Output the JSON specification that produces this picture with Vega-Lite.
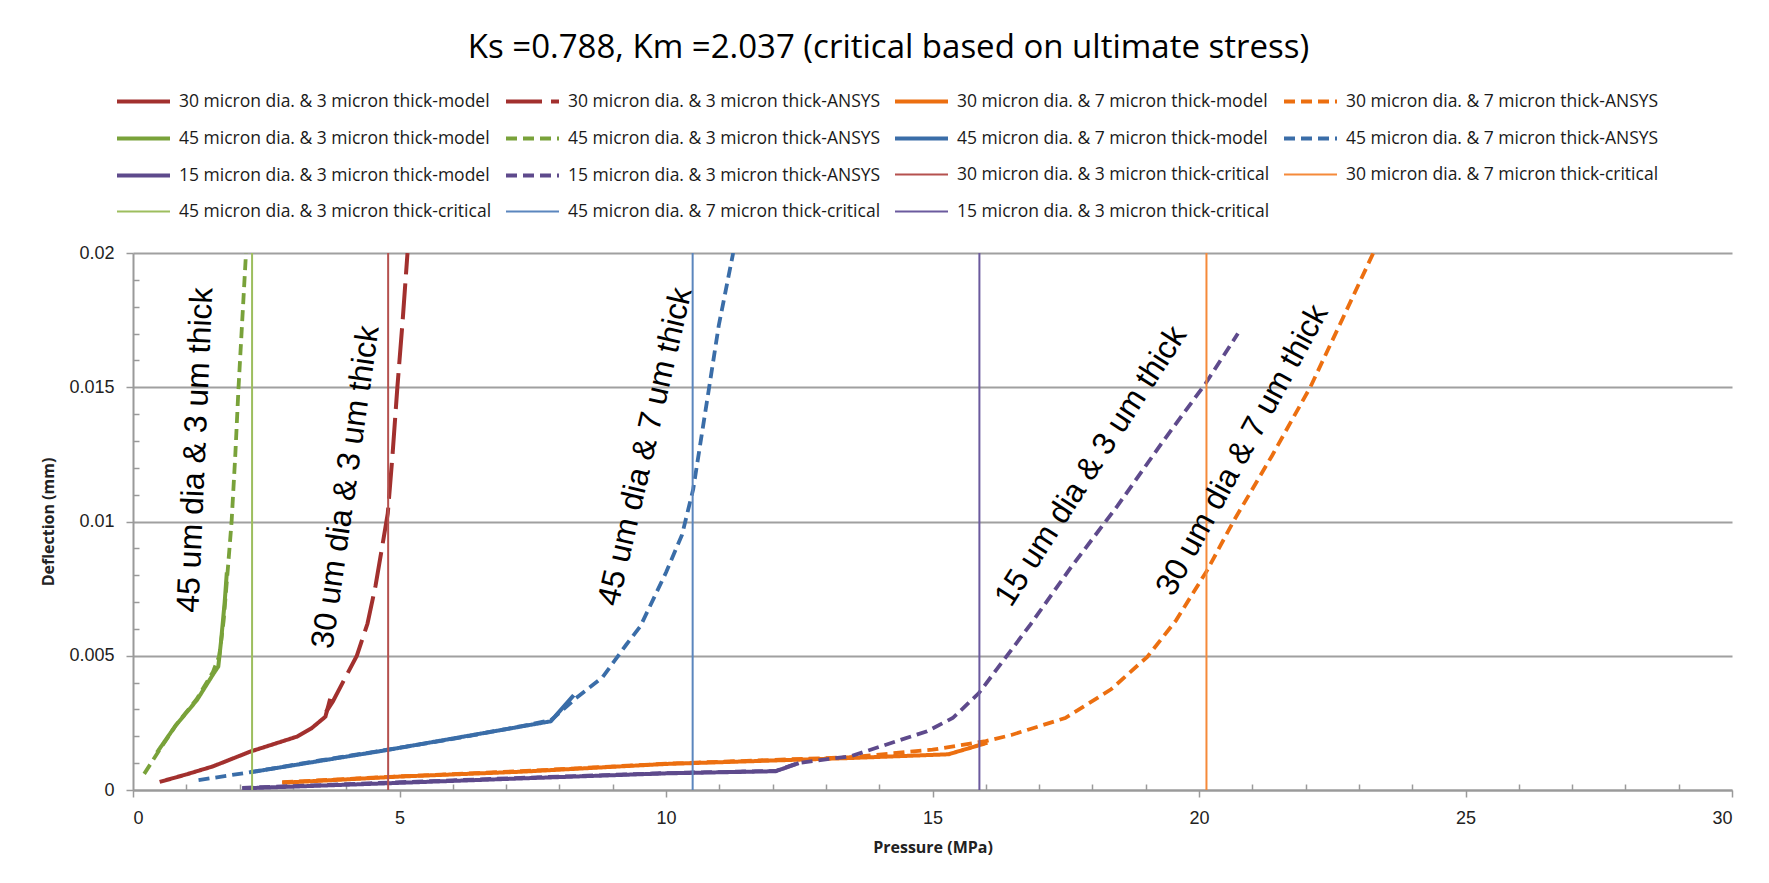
{
  "$schema": "https://vega.github.io/schema/vega-lite/v6.json",
  "width": 1599,
  "height": 537,
  "autosize": {"type": "none"},
  "padding": {"left": 133, "top": 253, "right": 37, "bottom": 93},
  "background": "white",
  "title": {
    "text": "Ks =0.788, Km =2.037 (critical based on ultimate stress)",
    "font": "Open Sans",
    "fontSize": 33,
    "fontWeight": "normal",
    "color": "#000000",
    "anchor": "middle",
    "offset": 8,
    "dx": -44
  },
  "config": {
    "view": {"stroke": null},
    "legend": {
      "orient": "none",
      "legendX": -18,
      "legendY": -180,
      "columns": 4,
      "direction": "horizontal",
      "symbolType": "stroke",
      "symbolSize": 2809,
      "labelFont": "Open Sans",
      "labelFontSize": 17.5,
      "labelColor": "#1a1a1a",
      "labelOffset": 7,
      "labelLimit": 0,
      "columnPadding": 6,
      "rowPadding": -1,
      "gridAlign": "all",
      "padding": 0
    }
  },
  "datasets": {
    "curves": [
      {"series": "30 micron dia. & 3 micron thick-model", "pressure": 0.5, "deflection": 0.0003},
      {"series": "30 micron dia. & 3 micron thick-model", "pressure": 1.0, "deflection": 0.00058},
      {"series": "30 micron dia. & 3 micron thick-model", "pressure": 1.5, "deflection": 0.00088},
      {"series": "30 micron dia. & 3 micron thick-model", "pressure": 2.2, "deflection": 0.00143},
      {"series": "30 micron dia. & 3 micron thick-model", "pressure": 3.08, "deflection": 0.00199},
      {"series": "30 micron dia. & 3 micron thick-model", "pressure": 3.35, "deflection": 0.0023},
      {"series": "30 micron dia. & 3 micron thick-model", "pressure": 3.61, "deflection": 0.00273},
      {"series": "30 micron dia. & 3 micron thick-model", "pressure": 3.7, "deflection": 0.0034},

      {"series": "30 micron dia. & 3 micron thick-ANSYS", "pressure": 3.62, "deflection": 0.0029},
      {"series": "30 micron dia. & 3 micron thick-ANSYS", "pressure": 3.75, "deflection": 0.0033},
      {"series": "30 micron dia. & 3 micron thick-ANSYS", "pressure": 3.96, "deflection": 0.0041},
      {"series": "30 micron dia. & 3 micron thick-ANSYS", "pressure": 4.2, "deflection": 0.005},
      {"series": "30 micron dia. & 3 micron thick-ANSYS", "pressure": 4.4, "deflection": 0.0062},
      {"series": "30 micron dia. & 3 micron thick-ANSYS", "pressure": 4.55, "deflection": 0.0076},
      {"series": "30 micron dia. & 3 micron thick-ANSYS", "pressure": 4.67, "deflection": 0.009},
      {"series": "30 micron dia. & 3 micron thick-ANSYS", "pressure": 4.78, "deflection": 0.0103},
      {"series": "30 micron dia. & 3 micron thick-ANSYS", "pressure": 4.87, "deflection": 0.0125},
      {"series": "30 micron dia. & 3 micron thick-ANSYS", "pressure": 4.96, "deflection": 0.015},
      {"series": "30 micron dia. & 3 micron thick-ANSYS", "pressure": 5.06, "deflection": 0.0175},
      {"series": "30 micron dia. & 3 micron thick-ANSYS", "pressure": 5.15, "deflection": 0.02},

      {"series": "30 micron dia. & 7 micron thick-model", "pressure": 2.8, "deflection": 0.00027},
      {"series": "30 micron dia. & 7 micron thick-model", "pressure": 5.0, "deflection": 0.0005},
      {"series": "30 micron dia. & 7 micron thick-model", "pressure": 7.27, "deflection": 0.00068},
      {"series": "30 micron dia. & 7 micron thick-model", "pressure": 10.0, "deflection": 0.00097},
      {"series": "30 micron dia. & 7 micron thick-model", "pressure": 13.44, "deflection": 0.00119},
      {"series": "30 micron dia. & 7 micron thick-model", "pressure": 15.3, "deflection": 0.00133},
      {"series": "30 micron dia. & 7 micron thick-model", "pressure": 16.03, "deflection": 0.00176},

      {"series": "30 micron dia. & 7 micron thick-ANSYS", "pressure": 2.8, "deflection": 0.00029},
      {"series": "30 micron dia. & 7 micron thick-ANSYS", "pressure": 5.0, "deflection": 0.00051},
      {"series": "30 micron dia. & 7 micron thick-ANSYS", "pressure": 7.27, "deflection": 0.0007},
      {"series": "30 micron dia. & 7 micron thick-ANSYS", "pressure": 10.0, "deflection": 0.00098},
      {"series": "30 micron dia. & 7 micron thick-ANSYS", "pressure": 13.44, "deflection": 0.00122},
      {"series": "30 micron dia. & 7 micron thick-ANSYS", "pressure": 15.0, "deflection": 0.0015},
      {"series": "30 micron dia. & 7 micron thick-ANSYS", "pressure": 16.0, "deflection": 0.00182},
      {"series": "30 micron dia. & 7 micron thick-ANSYS", "pressure": 16.48, "deflection": 0.00205},
      {"series": "30 micron dia. & 7 micron thick-ANSYS", "pressure": 17.49, "deflection": 0.00268},
      {"series": "30 micron dia. & 7 micron thick-ANSYS", "pressure": 18.35, "deflection": 0.00375},
      {"series": "30 micron dia. & 7 micron thick-ANSYS", "pressure": 19.03, "deflection": 0.00496},
      {"series": "30 micron dia. & 7 micron thick-ANSYS", "pressure": 19.57, "deflection": 0.00632},
      {"series": "30 micron dia. & 7 micron thick-ANSYS", "pressure": 20.15, "deflection": 0.00817},
      {"series": "30 micron dia. & 7 micron thick-ANSYS", "pressure": 20.65, "deflection": 0.01002},
      {"series": "30 micron dia. & 7 micron thick-ANSYS", "pressure": 21.37, "deflection": 0.01245},
      {"series": "30 micron dia. & 7 micron thick-ANSYS", "pressure": 22.09, "deflection": 0.01501},
      {"series": "30 micron dia. & 7 micron thick-ANSYS", "pressure": 22.7, "deflection": 0.01758},
      {"series": "30 micron dia. & 7 micron thick-ANSYS", "pressure": 23.27, "deflection": 0.02},

      {"series": "45 micron dia. & 3 micron thick-model", "pressure": 0.45, "deflection": 0.0014},
      {"series": "45 micron dia. & 3 micron thick-model", "pressure": 0.8, "deflection": 0.0024},
      {"series": "45 micron dia. & 3 micron thick-model", "pressure": 1.2, "deflection": 0.00335},
      {"series": "45 micron dia. & 3 micron thick-model", "pressure": 1.5, "deflection": 0.0043},
      {"series": "45 micron dia. & 3 micron thick-model", "pressure": 1.6, "deflection": 0.0046},
      {"series": "45 micron dia. & 3 micron thick-model", "pressure": 1.65, "deflection": 0.0055},
      {"series": "45 micron dia. & 3 micron thick-model", "pressure": 1.72, "deflection": 0.007},
      {"series": "45 micron dia. & 3 micron thick-model", "pressure": 1.76, "deflection": 0.0081},

      {"series": "45 micron dia. & 3 micron thick-ANSYS", "pressure": 0.21, "deflection": 0.0006},
      {"series": "45 micron dia. & 3 micron thick-ANSYS", "pressure": 0.5, "deflection": 0.0015},
      {"series": "45 micron dia. & 3 micron thick-ANSYS", "pressure": 0.8, "deflection": 0.0024},
      {"series": "45 micron dia. & 3 micron thick-ANSYS", "pressure": 1.2, "deflection": 0.0034},
      {"series": "45 micron dia. & 3 micron thick-ANSYS", "pressure": 1.5, "deflection": 0.0044},
      {"series": "45 micron dia. & 3 micron thick-ANSYS", "pressure": 1.62, "deflection": 0.005},
      {"series": "45 micron dia. & 3 micron thick-ANSYS", "pressure": 1.7, "deflection": 0.0063},
      {"series": "45 micron dia. & 3 micron thick-ANSYS", "pressure": 1.77, "deflection": 0.008},
      {"series": "45 micron dia. & 3 micron thick-ANSYS", "pressure": 1.85, "deflection": 0.01},
      {"series": "45 micron dia. & 3 micron thick-ANSYS", "pressure": 1.92, "deflection": 0.0125},
      {"series": "45 micron dia. & 3 micron thick-ANSYS", "pressure": 1.98, "deflection": 0.015},
      {"series": "45 micron dia. & 3 micron thick-ANSYS", "pressure": 2.05, "deflection": 0.0175},
      {"series": "45 micron dia. & 3 micron thick-ANSYS", "pressure": 2.12, "deflection": 0.02},

      {"series": "45 micron dia. & 7 micron thick-model", "pressure": 2.2, "deflection": 0.00066},
      {"series": "45 micron dia. & 7 micron thick-model", "pressure": 4.77, "deflection": 0.00149},
      {"series": "45 micron dia. & 7 micron thick-model", "pressure": 7.27, "deflection": 0.00236},
      {"series": "45 micron dia. & 7 micron thick-model", "pressure": 7.84, "deflection": 0.00256},
      {"series": "45 micron dia. & 7 micron thick-model", "pressure": 8.27, "deflection": 0.00353},

      {"series": "45 micron dia. & 7 micron thick-ANSYS", "pressure": 1.23, "deflection": 0.00037},
      {"series": "45 micron dia. & 7 micron thick-ANSYS", "pressure": 2.26, "deflection": 0.00068},
      {"series": "45 micron dia. & 7 micron thick-ANSYS", "pressure": 3.5, "deflection": 0.0011},
      {"series": "45 micron dia. & 7 micron thick-ANSYS", "pressure": 4.77, "deflection": 0.0015},
      {"series": "45 micron dia. & 7 micron thick-ANSYS", "pressure": 6.0, "deflection": 0.0019},
      {"series": "45 micron dia. & 7 micron thick-ANSYS", "pressure": 7.27, "deflection": 0.00237},
      {"series": "45 micron dia. & 7 micron thick-ANSYS", "pressure": 7.84, "deflection": 0.0026},
      {"series": "45 micron dia. & 7 micron thick-ANSYS", "pressure": 8.3, "deflection": 0.0034},
      {"series": "45 micron dia. & 7 micron thick-ANSYS", "pressure": 8.81, "deflection": 0.0042},
      {"series": "45 micron dia. & 7 micron thick-ANSYS", "pressure": 9.25, "deflection": 0.0054},
      {"series": "45 micron dia. & 7 micron thick-ANSYS", "pressure": 9.52, "deflection": 0.0061},
      {"series": "45 micron dia. & 7 micron thick-ANSYS", "pressure": 10.0, "deflection": 0.0081},
      {"series": "45 micron dia. & 7 micron thick-ANSYS", "pressure": 10.3, "deflection": 0.0095},
      {"series": "45 micron dia. & 7 micron thick-ANSYS", "pressure": 10.51, "deflection": 0.0112},
      {"series": "45 micron dia. & 7 micron thick-ANSYS", "pressure": 10.66, "deflection": 0.0131},
      {"series": "45 micron dia. & 7 micron thick-ANSYS", "pressure": 10.81, "deflection": 0.015},
      {"series": "45 micron dia. & 7 micron thick-ANSYS", "pressure": 10.99, "deflection": 0.0173},
      {"series": "45 micron dia. & 7 micron thick-ANSYS", "pressure": 11.26, "deflection": 0.02},

      {"series": "15 micron dia. & 3 micron thick-model", "pressure": 2.05, "deflection": 0.00006},
      {"series": "15 micron dia. & 3 micron thick-model", "pressure": 4.77, "deflection": 0.00025},
      {"series": "15 micron dia. & 3 micron thick-model", "pressure": 7.27, "deflection": 0.00043},
      {"series": "15 micron dia. & 3 micron thick-model", "pressure": 10.0, "deflection": 0.00062},
      {"series": "15 micron dia. & 3 micron thick-model", "pressure": 12.06, "deflection": 0.0007},
      {"series": "15 micron dia. & 3 micron thick-model", "pressure": 12.49, "deflection": 0.001},

      {"series": "15 micron dia. & 3 micron thick-ANSYS", "pressure": 2.05, "deflection": 0.00008},
      {"series": "15 micron dia. & 3 micron thick-ANSYS", "pressure": 7.27, "deflection": 0.00045},
      {"series": "15 micron dia. & 3 micron thick-ANSYS", "pressure": 10.0, "deflection": 0.00063},
      {"series": "15 micron dia. & 3 micron thick-ANSYS", "pressure": 12.06, "deflection": 0.00071},
      {"series": "15 micron dia. & 3 micron thick-ANSYS", "pressure": 12.49, "deflection": 0.00101},
      {"series": "15 micron dia. & 3 micron thick-ANSYS", "pressure": 13.47, "deflection": 0.00126},
      {"series": "15 micron dia. & 3 micron thick-ANSYS", "pressure": 14.9, "deflection": 0.00219},
      {"series": "15 micron dia. & 3 micron thick-ANSYS", "pressure": 15.38, "deflection": 0.00268},
      {"series": "15 micron dia. & 3 micron thick-ANSYS", "pressure": 15.87, "deflection": 0.00361},
      {"series": "15 micron dia. & 3 micron thick-ANSYS", "pressure": 16.84, "deflection": 0.00617},
      {"series": "15 micron dia. & 3 micron thick-ANSYS", "pressure": 17.6, "deflection": 0.0083},
      {"series": "15 micron dia. & 3 micron thick-ANSYS", "pressure": 18.47, "deflection": 0.01058},
      {"series": "15 micron dia. & 3 micron thick-ANSYS", "pressure": 19.33, "deflection": 0.013},
      {"series": "15 micron dia. & 3 micron thick-ANSYS", "pressure": 20.12, "deflection": 0.01513},
      {"series": "15 micron dia. & 3 micron thick-ANSYS", "pressure": 20.73, "deflection": 0.017},

      {"series": "30 micron dia. & 3 micron thick-critical", "pressure": 4.787, "deflection": 0},
      {"series": "30 micron dia. & 3 micron thick-critical", "pressure": 4.787, "deflection": 0.02},
      {"series": "30 micron dia. & 7 micron thick-critical", "pressure": 20.14, "deflection": 0},
      {"series": "30 micron dia. & 7 micron thick-critical", "pressure": 20.14, "deflection": 0.02},
      {"series": "45 micron dia. & 3 micron thick-critical", "pressure": 2.234, "deflection": 0},
      {"series": "45 micron dia. & 3 micron thick-critical", "pressure": 2.234, "deflection": 0.02},
      {"series": "45 micron dia. & 7 micron thick-critical", "pressure": 10.5, "deflection": 0},
      {"series": "45 micron dia. & 7 micron thick-critical", "pressure": 10.5, "deflection": 0.02},
      {"series": "15 micron dia. & 3 micron thick-critical", "pressure": 15.88, "deflection": 0},
      {"series": "15 micron dia. & 3 micron thick-critical", "pressure": 15.88, "deflection": 0.02}
    ]
  },
  "layer": [
    {
      "data": {"name": "curves"},
      "mark": {"type": "line", "clip": true},
      "encoding": {
        "x": {
          "field": "pressure",
          "type": "quantitative",
          "scale": {"domain": [0, 30], "nice": false, "zero": false},
          "axis": {
            "title": "Pressure (MPa)",
            "values": [0,1,2,3,4,5,6,7,8,9,10,11,12,13,14,15,16,17,18,19,20,21,22,23,24,25,26,27,28,29,30],
            "tickCount": 200,
            "labelOverlap": false,
            "labelExpr": "datum.value % 5 == 0 ? format(datum.value, 'd') : ''",
            "grid": false,
            "domainColor": "#9a9a9a",
            "domainWidth": 2,
            "tickColor": "#9a9a9a",
            "tickWidth": 1.5,
            "tickSize": {"condition": {"test": "datum.value % 5 == 0", "value": 7}, "value": -6},
            "labelFont": "Liberation Sans",
            "labelFontSize": 18,
            "labelColor": "#222222",
            "labelPadding": 12,
            "titleFont": "Open Sans",
            "titleFontSize": 16,
            "titleFontWeight": "bold",
            "titleColor": "#222222",
            "titlePadding": 12
          }
        },
        "y": {
          "field": "deflection",
          "type": "quantitative",
          "scale": {"domain": [0, 0.02], "nice": false},
          "axis": {
            "title": "Deflection (mm)",
            "values": [0,0.001,0.002,0.003,0.004,0.005,0.006,0.007,0.008,0.009,0.01,0.011,0.012,0.013,0.014,0.015,0.016,0.017,0.018,0.019,0.02],
            "tickCount": 200,
            "labelOverlap": false,
            "labelExpr": "round(datum.value*1000) % 5 == 0 ? format(datum.value, '~g') : ''",
            "grid": true,
            "gridColor": "#a0a0a0",
            "gridWidth": 2,
            "gridOpacity": {"condition": {"test": "round(datum.value*1000) % 5 == 0", "value": 1}, "value": 0},
            "domainColor": "#9a9a9a",
            "domainWidth": 2,
            "tickColor": "#9a9a9a",
            "tickWidth": 1.5,
            "tickSize": {"condition": {"test": "round(datum.value*1000) % 5 == 0", "value": 7}, "value": -6},
            "labelFont": "Liberation Sans",
            "labelFontSize": 18,
            "labelColor": "#222222",
            "labelPadding": 12,
            "titleFont": "Open Sans",
            "titleFontSize": 16,
            "titleFontWeight": "bold",
            "titleColor": "#222222",
            "titlePadding": 12
          }
        },
        "order": {"field": "deflection", "type": "quantitative"},
        "color": {
          "field": "series",
          "type": "nominal",
          "title": null,
          "scale": {
            "domain": [
              "30 micron dia. & 3 micron thick-model", "30 micron dia. & 3 micron thick-ANSYS", "30 micron dia. & 7 micron thick-model", "30 micron dia. & 7 micron thick-ANSYS",
              "45 micron dia. & 3 micron thick-model", "45 micron dia. & 3 micron thick-ANSYS", "45 micron dia. & 7 micron thick-model", "45 micron dia. & 7 micron thick-ANSYS",
              "15 micron dia. & 3 micron thick-model", "15 micron dia. & 3 micron thick-ANSYS", "30 micron dia. & 3 micron thick-critical", "30 micron dia. & 7 micron thick-critical",
              "45 micron dia. & 3 micron thick-critical", "45 micron dia. & 7 micron thick-critical", "15 micron dia. & 3 micron thick-critical"
            ],
            "range": ["#a2302e", "#a2302e", "#ec6f10", "#ec6f10", "#79a23a", "#79a23a", "#3a6da8", "#3a6da8", "#5e4a8c", "#5e4a8c", "#b5514e", "#f58a3a", "#9dbe5e", "#5b86be", "#6b5a9e"]
          }
        },
        "strokeDash": {
          "field": "series",
          "type": "nominal",
          "title": null,
          "scale": {
            "domain": [
              "30 micron dia. & 3 micron thick-model", "30 micron dia. & 3 micron thick-ANSYS", "30 micron dia. & 7 micron thick-model", "30 micron dia. & 7 micron thick-ANSYS",
              "45 micron dia. & 3 micron thick-model", "45 micron dia. & 3 micron thick-ANSYS", "45 micron dia. & 7 micron thick-model", "45 micron dia. & 7 micron thick-ANSYS",
              "15 micron dia. & 3 micron thick-model", "15 micron dia. & 3 micron thick-ANSYS", "30 micron dia. & 3 micron thick-critical", "30 micron dia. & 7 micron thick-critical",
              "45 micron dia. & 3 micron thick-critical", "45 micron dia. & 7 micron thick-critical", "15 micron dia. & 3 micron thick-critical"
            ],
            "range": [[1, 0], [36, 9], [1, 0], [11, 6], [1, 0], [11, 6], [1, 0], [11, 6], [1, 0], [11, 6], [1, 0], [1, 0], [1, 0], [1, 0], [1, 0]]
          }
        },
        "strokeWidth": {
          "field": "series",
          "type": "nominal",
          "title": null,
          "scale": {
            "type": "ordinal",
            "domain": [
              "30 micron dia. & 3 micron thick-model", "30 micron dia. & 3 micron thick-ANSYS", "30 micron dia. & 7 micron thick-model", "30 micron dia. & 7 micron thick-ANSYS",
              "45 micron dia. & 3 micron thick-model", "45 micron dia. & 3 micron thick-ANSYS", "45 micron dia. & 7 micron thick-model", "45 micron dia. & 7 micron thick-ANSYS",
              "15 micron dia. & 3 micron thick-model", "15 micron dia. & 3 micron thick-ANSYS", "30 micron dia. & 3 micron thick-critical", "30 micron dia. & 7 micron thick-critical",
              "45 micron dia. & 3 micron thick-critical", "45 micron dia. & 7 micron thick-critical", "15 micron dia. & 3 micron thick-critical"
            ],
            "range": [4, 4, 4, 3.8, 4, 3.8, 4, 3.8, 4, 3.8, 2, 2, 2, 2, 2]
          }
        }
      }
    },
    {
      "data": {"values": [{"label": "45 um dia & 3 um thick", "pressure": 1.17, "deflection": 0.01266}]},
      "mark": {"type": "text", "angle": 272.5, "font": "Liberation Sans", "fontSize": 32, "color": "#000000", "align": "center", "baseline": "middle"},
      "encoding": {
        "x": {"field": "pressure", "type": "quantitative"},
        "y": {"field": "deflection", "type": "quantitative"},
        "text": {"field": "label"}
      }
    },
    {
      "data": {"values": [{"label": "30 um dia & 3 um thick", "pressure": 3.99, "deflection": 0.01128}]},
      "mark": {"type": "text", "angle": 278.2, "font": "Liberation Sans", "fontSize": 32, "color": "#000000", "align": "center", "baseline": "middle"},
      "encoding": {
        "x": {"field": "pressure", "type": "quantitative"},
        "y": {"field": "deflection", "type": "quantitative"},
        "text": {"field": "label"}
      }
    },
    {
      "data": {"values": [{"label": "45 um dia & 7 um thick", "pressure": 9.61, "deflection": 0.01279}]},
      "mark": {"type": "text", "angle": 283.1, "font": "Liberation Sans", "fontSize": 32, "color": "#000000", "align": "center", "baseline": "middle"},
      "encoding": {
        "x": {"field": "pressure", "type": "quantitative"},
        "y": {"field": "deflection", "type": "quantitative"},
        "text": {"field": "label"}
      }
    },
    {
      "data": {"values": [{"label": "15 um dia & 3 um thick", "pressure": 17.97, "deflection": 0.01207}]},
      "mark": {"type": "text", "angle": 302.8, "font": "Liberation Sans", "fontSize": 32, "color": "#000000", "align": "center", "baseline": "middle"},
      "encoding": {
        "x": {"field": "pressure", "type": "quantitative"},
        "y": {"field": "deflection", "type": "quantitative"},
        "text": {"field": "label"}
      }
    },
    {
      "data": {"values": [{"label": "30 um dia & 7 um thick", "pressure": 20.81, "deflection": 0.01266}]},
      "mark": {"type": "text", "angle": 298.5, "font": "Liberation Sans", "fontSize": 32, "color": "#000000", "align": "center", "baseline": "middle"},
      "encoding": {
        "x": {"field": "pressure", "type": "quantitative"},
        "y": {"field": "deflection", "type": "quantitative"},
        "text": {"field": "label"}
      }
    }
  ]
}
